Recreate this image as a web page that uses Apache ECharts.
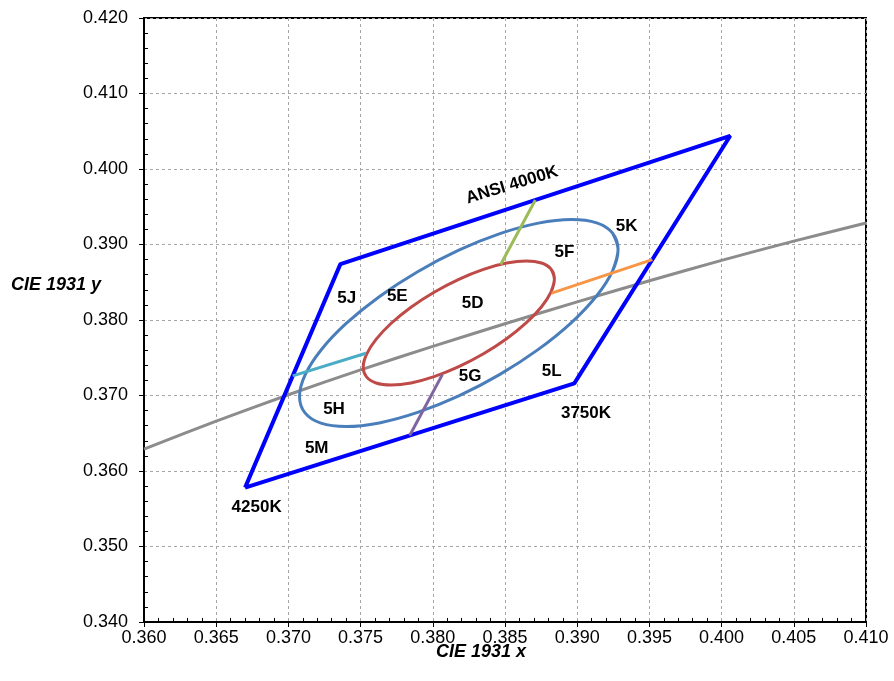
<!DOCTYPE html>
<html><head><meta charset="utf-8">
<script src="https://cdn.jsdelivr.net/npm/echarts@6/dist/echarts.min.js"></script>
<style>html,body{margin:0;padding:0;background:#fff}#c{width:894px;height:681px}</style>
</head><body><div id="c"></div>
<script>
// ANSI 4000K quadrangle
const quadX = [0.3670, 0.3736, 0.4006, 0.3898, 0.3670];
const quadY = [0.3578, 0.3874, 0.4044, 0.3716, 0.3578];
// Planckian locus (gray)
const planckX = [0.360, 0.365, 0.370, 0.375, 0.380, 0.385, 0.390, 0.395, 0.400, 0.405, 0.410];
const planckY = [0.3629, 0.3666, 0.3701, 0.3734, 0.3765, 0.3795, 0.3824, 0.3852, 0.3879, 0.39045, 0.39285];
// outer ellipse (blue)
const outerX = [0.39283,0.39245,0.39135,0.38960,0.38731,0.38465,0.38180,0.37895,0.37629,0.37400,0.37225,0.37115,
                0.37077,0.37115,0.37225,0.37400,0.37629,0.37895,0.38180,0.38465,0.38731,0.38960,0.39135,0.39245];
const outerY = [0.38934,0.39150,0.39286,0.39331,0.39283,0.39144,0.38925,0.38640,0.38309,0.37954,0.37600,0.37270,
                0.36987,0.36770,0.36634,0.36589,0.36637,0.36776,0.36995,0.37280,0.37611,0.37966,0.38321,0.38651];
// inner ellipse (red)
const innerX = [0.38842,0.38819,0.38753,0.38648,0.38511,0.38351,0.38180,0.38009,0.37849,0.37712,0.37607,0.37541,
                0.37518,0.37541,0.37607,0.37712,0.37849,0.38009,0.38180,0.38351,0.38511,0.38648,0.38753,0.38819];
const innerY = [0.38544,0.38674,0.38755,0.38783,0.38754,0.38671,0.38539,0.38368,0.38170,0.37957,0.37744,0.37546,
                0.37376,0.37246,0.37165,0.37138,0.37166,0.37249,0.37381,0.37552,0.37751,0.37964,0.38176,0.38374];
// dividing segments
const greenX = [0.3847, 0.3871],  greenY = [0.38736, 0.3959];
const orangeX = [0.38823, 0.3952], orangeY = [0.38356, 0.3880];
const tealX = [0.3703, 0.37537],  tealY = [0.3726, 0.3756];
const purpleX = [0.3784, 0.38066], purpleY = [0.3647, 0.37277];
// text annotations
const labelNames = ['ANSI 4000K','5K','5F','5J','5E','5D','5G','5L','5H','3750K','5M','4250K'];
const labelX = [0.38548,0.39343,0.38911,0.37404,0.37754,0.38276,0.38258,0.38823,0.37316,0.39061,0.37196,0.36780];
const labelY = [0.39788,0.39236,0.38891,0.38287,0.38309,0.38221,0.37258,0.37315,0.36817,0.36764,0.36301,0.35519];
// axis ticks
const xMin = 0.360, xMax = 0.410, xStep = 0.005;
const yMin = 0.340, yMax = 0.420, yStep = 0.010;

const zip = (xs, ys) => xs.map((x, i) => [x, ys[i]]);
const loop = (xs, ys) => { const p = zip(xs, ys); const n = p.length; return [p[n-1], ...p, p[0], p[1]]; };

const FONT = "'Liberation Sans', Arial, sans-serif";
const NARROW = "'Liberation Sans Narrow', 'Arial Narrow', 'Liberation Sans', sans-serif";
const chart = echarts.init(document.getElementById('c'), null, {renderer: 'canvas'});

const lineS = (data, color, width, smooth, z) => ({
  type: 'line', data, showSymbol: false, symbol: 'none', smooth: smooth || false,
  lineStyle: {color, width}, z: z || 2, animation: false, silent: true
});

chart.setOption({
  backgroundColor: '#fff',
  animation: false,
  grid: {left: 144, right: 28, top: 18, bottom: 59, show: true, borderColor: '#000', borderWidth: 2, backgroundColor: 'transparent'},
  xAxis: [{
    type: 'value', min: xMin, max: xMax, interval: xStep,
    axisLine: {show: true, lineStyle: {color: '#000', width: 2}},
    axisTick: {show: true, length: 5, lineStyle: {color: '#000'}},
    axisLabel: {margin: 7, fontSize: 18, color: '#000', fontFamily: NARROW, formatter: v => v.toFixed(3)},
    splitLine: {show: true, lineStyle: {color: '#a6a6a6', type: [3, 3], width: 1}}
  }, {
    type: 'value', min: xMin, max: xMax, interval: xStep, position: 'bottom',
    axisLine: {show: false}, axisLabel: {show: false}, splitLine: {show: false},
    axisTick: {show: false, inside: true},
    minorTick: {show: true, splitNumber: 5, length: 4, lineStyle: {color: '#000'}}
  }],
  yAxis: [{
    type: 'value', min: yMin, max: yMax, interval: yStep,
    axisLine: {show: true, lineStyle: {color: '#000', width: 2}},
    axisTick: {show: true, length: 5, lineStyle: {color: '#000'}},
    axisLabel: {margin: 16, fontSize: 18, color: '#000', fontFamily: FONT, formatter: v => v.toFixed(3)},
    splitLine: {show: true, lineStyle: {color: '#a6a6a6', type: [3, 3], width: 1}}
  }, {
    type: 'value', min: yMin, max: yMax, interval: yStep, position: 'left',
    axisLine: {show: false}, axisLabel: {show: false}, splitLine: {show: false},
    axisTick: {show: false, inside: true},
    minorTick: {show: true, splitNumber: 5, length: 4, lineStyle: {color: '#000'}}
  }],
  graphic: [
    {type: 'text', left: 11, top: 276, style: {text: 'CIE 1931 y', font: "italic bold 18px 'Liberation Sans', Arial, sans-serif", fill: '#000'}},
    {type: 'text', left: 436, top: 643, style: {text: 'CIE 1931 x', font: "italic bold 18px 'Liberation Sans Narrow', 'Liberation Sans', sans-serif", fill: '#000'}}
  ],
  series: [
    lineS(zip(planckX, planckY), '#8c8c8c', 3, 0.3, 2),
    lineS(zip(quadX, quadY), '#0000ff', 4, false, 3),
    lineS(loop(outerX, outerY), '#4a7ebb', 3, 0.33, 4),
    lineS(loop(innerX, innerY), '#be4b48', 3, 0.33, 4),
    lineS(zip(greenX, greenY), '#9bbb59', 3, false, 5),
    lineS(zip(orangeX, orangeY), '#f79646', 3, false, 5),
    lineS(zip(tealX, tealY), '#4bacc6', 3, false, 5),
    lineS(zip(purpleX, purpleY), '#8064a2', 3, false, 5),
    {
      type: 'scatter', symbolSize: 1, itemStyle: {color: '#fff', opacity: 1}, z: 6, silent: true,
      data: labelNames.map((n, i) => ({name: n, value: [labelX[i], labelY[i]],
        label: n === 'ANSI 4000K' ? {rotate: 17} : undefined})),
      label: {show: true, position: 'inside', formatter: '{b}', color: '#000', opacity: 1,
              textBorderWidth: 0, textBorderColor: 'transparent',
              fontSize: 17, fontWeight: 'bold', fontFamily: FONT}
    }
  ]
});
</script></body></html>
